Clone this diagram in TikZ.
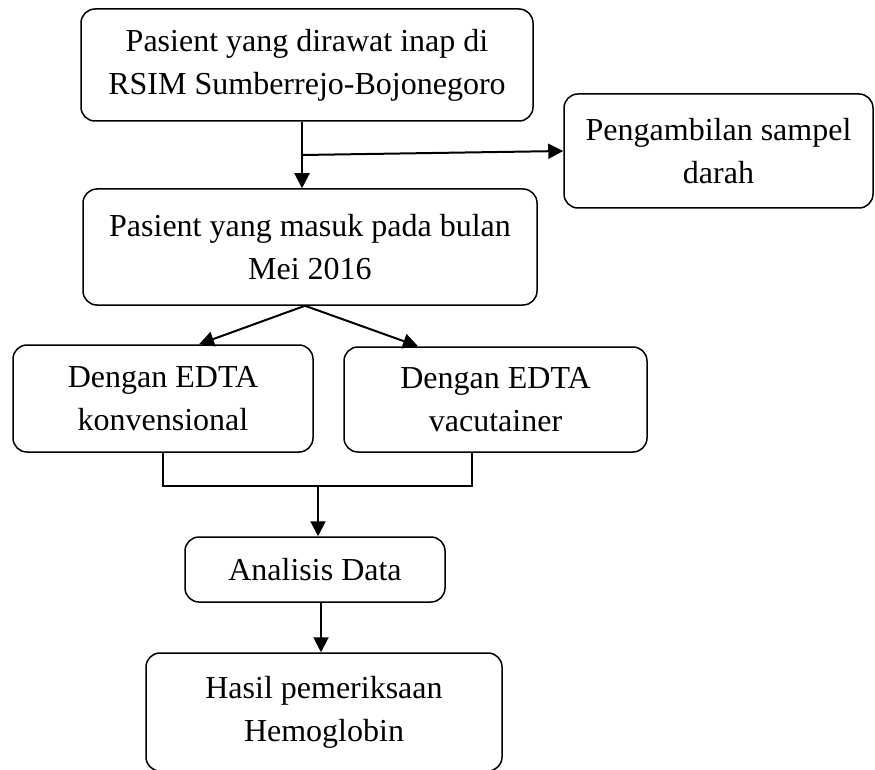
\documentclass[tikz,border=0pt]{standalone}
\usepackage{fontspec}
\setmainfont{Liberation Serif}
\usetikzlibrary{arrows.meta}
\begin{document}
\begin{tikzpicture}[x=1pt,y=-1pt,
  box/.style={draw, line width=1.5pt, rounded corners=14pt, inner sep=0pt, align=center,
    font=\fontsize{32}{43}\selectfont},
  arr/.style={line width=2pt, -{Triangle[length=15pt,width=15pt]}},
  ln/.style={line width=1.5pt}]
\useasboundingbox (0,0) rectangle (875,770);
\node[box, minimum width=452pt, minimum height=112pt] (b1) at (307,65) {Pasient yang dirawat inap di\\RSIM Sumberrejo-Bojonegoro};
\node[box, minimum width=309pt, minimum height=114pt] (r) at (718.5,151) {Pengambilan sampel\\darah};
\node[box, minimum width=454pt, minimum height=116pt] (b2) at (310,247) {Pasient yang masuk pada bulan\\Mei 2016};
\node[box, minimum width=300pt, minimum height=107pt] (b3) at (163,398.5) {Dengan EDTA\\konvensional};
\node[box, minimum width=303pt, minimum height=105pt] (b4) at (495.5,399.5) {Dengan EDTA\\vacutainer};
\node[box, minimum width=260pt, minimum height=65pt] (b5) at (315,569.5) {Analisis Data};
\node[box, minimum width=356pt, minimum height=118pt] (b6) at (324,712) {Hasil pemeriksaan\\Hemoglobin};
\coordinate (j1) at (302,155);
\draw[arr] (b1.south -| j1) -- (b2.north -| j1);
\draw[arr] (j1) -- (r.west);
\draw[arr] ([xshift=-5pt]b2.south) -- ([xshift=36pt]b3.north);
\draw[arr] ([xshift=-5pt]b2.south) -- ([xshift=-77.5pt]b4.north);
\coordinate (j3) at (318,486);
\draw[ln] (b3.south) -- (b3.south |- j3) -- (j3 -| 472,0) -- ([xshift=-23.5pt]b4.south);
\draw[arr] (j3) -- (b5.north -| j3);
\draw[arr] ([xshift=6pt]b5.south) -- ([xshift=6pt]b5.south |- b6.north);
\end{tikzpicture}
\end{document}
